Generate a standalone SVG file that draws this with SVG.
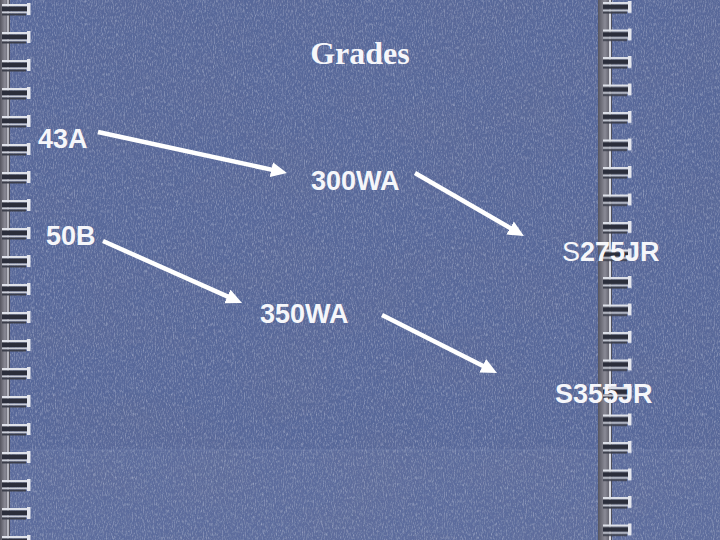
<svg xmlns="http://www.w3.org/2000/svg" width="720" height="540" viewBox="0 0 720 540">
<defs>
<style>
.lbl{font-family:"Liberation Sans",Arial,sans-serif;font-weight:bold;font-size:27px;fill:#f5f6fa}
.ttl{font-family:"Liberation Serif","Times New Roman",serif;font-weight:bold;font-size:32px;fill:#f5f6fa}
.arr{stroke:#ffffff;stroke-width:4.5;fill:none;marker-end:url(#ah)}
</style>
<marker id="ah" markerUnits="userSpaceOnUse" markerWidth="18" markerHeight="16" refX="6" refY="7.5" orient="auto">
<path d="M0,0 L16,7.5 L0,15 z" fill="#ffffff"/>
</marker>
<filter id="noise" x="0" y="0" width="100%" height="100%">
<feTurbulence type="fractalNoise" baseFrequency="0.9 0.3" numOctaves="3" seed="4" result="n"/>
<feColorMatrix in="n" type="matrix" values="0 0 0 0 1  0 0 0 0 1  0 0 0 0 1  2.2 0 0 0 -1.0"/>
</filter>
<filter id="dark" x="0" y="0" width="100%" height="100%">
<feTurbulence type="fractalNoise" baseFrequency="0.7 0.2" numOctaves="3" seed="11" result="n"/>
<feColorMatrix in="n" type="matrix" values="0 0 0 0 0.15  0 0 0 0 0.18  0 0 0 0 0.35  2.2 0 0 0 -1.0"/>
</filter>
<filter id="mottle" x="0" y="0" width="100%" height="100%">
<feTurbulence type="fractalNoise" baseFrequency="0.012 0.02" numOctaves="2" seed="9" result="m"/>
<feColorMatrix in="m" type="matrix" values="0 0 0 0 0.12  0 0 0 0 0.15  0 0 0 0 0.3  1.4 0 0 0 -0.55"/>
</filter>
<linearGradient id="strip" x1="0" y1="0" x2="1" y2="0">
<stop offset="0" stop-color="#55555f"/>
<stop offset="0.5" stop-color="#8a8a96"/>
<stop offset="1" stop-color="#4a4a55"/>
</linearGradient>
<g id="ring">
<rect x="0" y="0" width="27" height="2.5" fill="#dfe2ea"/>
<rect x="0" y="2.5" width="26" height="5" fill="#2b2e3b"/>
<rect x="0" y="7.5" width="26" height="2" fill="#c9cdd8"/>
<rect x="0" y="9.5" width="24" height="2" fill="#3a3d4a"/>
<rect x="25" y="-1" width="3.5" height="12" fill="#e4e6ee"/>
</g>
<pattern id="ringsL" patternUnits="userSpaceOnUse" x="0" y="3" width="40" height="28">
<use href="#ring" x="2" y="1"/>
</pattern>
<pattern id="ringsR" patternUnits="userSpaceOnUse" x="600" y="1" width="40" height="27.5">
<use href="#ring" x="3" y="1"/>
</pattern>
</defs>
<g id="background">
<rect width="720" height="540" fill="#57689a"/>
<rect width="720" height="540" filter="url(#mottle)" opacity="0.5"/>
<rect width="720" height="540" filter="url(#noise)" opacity="0.35"/>
<rect width="720" height="540" filter="url(#dark)" opacity="0.5"/>
<rect x="0" y="450" width="720" height="90" fill="#ffffff" opacity="0.03"/>
<line x1="0" y1="450" x2="720" y2="450" stroke="#8a98c0" stroke-width="1" opacity="0.3"/>
</g>
<g id="spiral-left">
<rect x="0" y="0" width="10" height="540" fill="url(#strip)"/>
<line x1="8" y1="0" x2="8" y2="540" stroke="#d0d2da" stroke-width="1.5"/>
<rect x="0" y="0" width="34" height="540" fill="url(#ringsL)"/>
</g>
<g id="spiral-right">
<rect x="598" y="0" width="14" height="540" fill="url(#strip)"/>
<line x1="610" y1="0" x2="610" y2="540" stroke="#d8dae2" stroke-width="2"/>
<rect x="600" y="0" width="36" height="540" fill="url(#ringsR)"/>
</g>
<g id="title"><text class="ttl" x="360" y="64" text-anchor="middle">Grades</text></g>
<g id="connectors">
<line class="arr" x1="98" y1="132" x2="277.2" y2="170.9"/>
<line class="arr" x1="415" y1="173" x2="515.3" y2="231"/>
<line class="arr" x1="103" y1="241" x2="232.9" y2="298.9"/>
<line class="arr" x1="382" y1="315" x2="488.1" y2="368.5"/>
</g>
<g id="n43A"><text class="lbl" x="38" y="148">43A</text></g>
<g id="n300WA"><text class="lbl" x="311" y="190">300WA</text></g>
<g id="n50B"><text class="lbl" x="46" y="245">50B</text></g>
<g id="nS275JR"><text class="lbl" x="562" y="261"><tspan font-weight="normal">S</tspan>275JR</text></g>
<g id="n350WA"><text class="lbl" x="260" y="323">350WA</text></g>
<g id="nS355JR"><text class="lbl" x="555" y="403">S355JR</text></g>
</svg>
